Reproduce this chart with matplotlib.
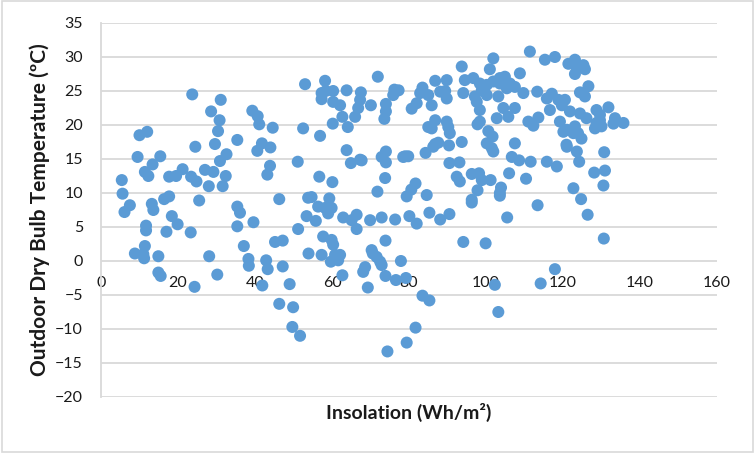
import matplotlib
matplotlib.use("Agg")
import matplotlib.pyplot as plt
from matplotlib.patches import Rectangle

# insolation (Wh/m2) and outdoor dry bulb temperature (C)
insolation = [
    5.4, 5.6, 7.5, 6.1, 9.5, 10.0, 12.0, 11.4, 12.3, 13.4, 15.4, 17.7, 19.5, 21.2, 23.4, 24.8, 24.5, 27.0, 29.2, 28.0,
    28.6, 31.1, 30.8, 30.4, 29.6, 30.9, 32.6, 32.4, 31.6, 35.4, 39.3, 40.7, 41.1, 44.6, 41.8, 40.6, 44.0, 43.9, 43.2, 46.3,
    51.1, 53.0, 52.5, 53.8, 23.7,
    13.2, 13.6, 16.4, 17.7, 25.5, 18.4, 19.9, 11.7, 11.7, 17.0, 23.3, 8.8, 11.0, 11.2, 11.4, 14.9, 14.9, 15.5, 24.3, 28.1,
    30.2, 35.4, 36.1, 35.4, 39.6, 37.1, 38.3, 38.4, 42.9, 43.3, 41.9, 45.2, 47.2, 51.2, 53.4, 53.9, 47.2, 49.0, 46.3, 49.9,
    49.7, 51.7,
    58.2, 57.3, 57.3, 58.4, 60.3, 60.3, 62.1, 63.8, 67.5, 67.3, 66.8, 66.0, 62.7, 60.2, 64.1, 70.1, 71.9, 76.2, 77.3, 75.9,
    74.0, 74.0, 73.6, 56.9, 63.8, 64.9, 67.7, 74.0, 74.0, 73.8, 56.7, 60.1, 54.7, 59.3, 71.8, 79.0, 79.8, 81.7, 80.6, 79.4,
    84.6, 80.7, 82.0, 83.5, 82.9, 85.0, 85.9, 86.8, 89.8, 88.1, 89.4, 89.8, 85.0, 86.8, 89.8, 90.6, 86.8, 87.6, 90.4, 84.3,
    93.7, 90.5, 93.1, 92.4, 93.2, 67.3, 72.9, 78.5, 86.3, 90.2, 85.9,
    56.4, 58.2, 59.9, 59.0, 55.8, 57.7, 59.9, 60.3, 57.3, 59.7, 60.8, 62.1, 61.6, 62.7, 62.9, 65.1, 66.4, 66.4, 69.9, 72.9,
    76.4, 73.9, 70.3, 70.6, 71.6, 72.5, 72.9, 68.6, 68.1, 69.3, 73.9, 76.6, 79.2, 77.9, 80.1, 82.0, 85.3, 88.1, 90.5, 83.5,
    85.3, 81.7, 79.4, 74.4, 94.1, 99.9, 96.3, 103.6, 105.5, 102.3, 103.2,
    93.7, 94.5, 94.1, 101.9, 101.0, 96.7, 98.4, 100.2, 101.9, 103.6, 104.9, 106.2, 107.5, 108.8, 109.7, 103.2, 98.9, 97.6,
    98.4, 100.2, 97.1, 105.4, 103.6, 104.5, 107.5, 105.8, 102.8, 98.4, 97.8, 100.6, 101.7, 100.2, 101.5, 101.9, 107.5, 106.7,
    96.3, 98.2, 98.9, 101.2, 97.8, 96.3, 103.9, 103.6, 106.0,
    111.4, 115.3, 117.9, 121.4, 123.1, 123.4, 125.3, 125.7, 123.1, 126.6, 124.4, 125.7, 113.3, 115.8, 117.1, 118.8, 120.5,
    119.7, 116.6, 121.8, 124.4, 126.1, 128.7, 129.6, 131.8, 133.5, 135.7, 133.1, 128.7, 130.0, 128.3, 129.6, 119.2, 120.1,
    121.0, 123.1, 123.9, 124.8, 122.7, 111.0, 112.3, 113.6, 120.9, 121.0, 123.6, 124.2, 130.7, 108.6, 111.6, 115.8, 118.4,
    110.4, 128.1, 130.9, 130.5, 122.7, 124.7, 113.4, 126.4, 130.6, 117.9, 114.2,
]
temperature = [
    11.9, 9.9, 8.2, 7.2, 15.3, 18.5, 19.0, 13.1, 12.5, 14.2, 15.4, 12.4, 12.5, 13.5, 12.4, 11.7, 16.8, 13.4, 13.1, 11.0,
    22.0, 23.7, 20.7, 19.1, 17.2, 14.7, 15.7, 12.5, 11.0, 17.8, 22.1, 21.3, 20.1, 19.6, 17.3, 16.2, 16.7, 14.0, 12.7, 9.1,
    14.6, 26.0, 19.5, 9.3, 24.5,
    8.4, 7.5, 9.1, 9.5, 8.9, 6.6, 5.4, 5.2, 4.5, 4.3, 4.2, 1.1, 1.0, 0.4, 2.2, 0.7, -1.7, -2.2, -3.8, 0.7,
    -2.0, 8.0, 7.1, 5.1, 5.7, 2.2, 0.3, -0.7, 0.1, -1.2, -3.6, 2.8, 3.0, 4.7, 6.6, 1.1, -0.8, -3.4, -6.3, -6.8,
    -9.7, -11.0,
    26.5, 24.7, 23.8, 25.0, 25.0, 23.4, 22.9, 25.1, 24.8, 23.7, 22.5, 21.2, 21.2, 20.2, 19.7, 22.9, 27.1, 25.2, 25.1, 24.4,
    23.1, 22.0, 20.9, 18.4, 16.3, 14.4, 14.8, 16.1, 14.5, 12.2, 12.4, 11.6, 9.4, 9.2, 10.2, 15.4, 15.4, 11.4, 10.5, 9.5,
    9.7, 22.4, 23.2, 25.5, 24.7, 24.4, 22.9, 26.5, 26.6, 24.9, 25.0, 23.9, 19.7, 20.7, 20.5, 18.8, 17.2, 17.4, 17.0, 15.9,
    17.5, 14.4, 14.5, 12.4, 11.7, 14.9, 15.3, 15.3, 16.8, 19.7, 19.5,
    8.0, 7.8, 7.8, 7.0, 5.9, 3.6, 3.1, 2.4, 0.9, -0.1, 0.9, 0.9, 0.1, -2.1, 6.4, 6.0, 6.8, 4.7, 6.0, 6.4,
    6.1, 3.0, 1.6, 1.1, 0.6, -0.1, -0.6, -0.9, -1.6, -3.9, -2.2, -2.8, -2.5, 0.0, 6.6, 5.5, 7.1, 6.1, 6.9, -5.1,
    -5.8, -9.8, -12.0, -13.3, 2.8, 2.6, 8.6, 9.6, 6.4, -3.5, -7.5,
    28.6, 26.6, 24.7, 29.8, 28.2, 26.9, 26.1, 25.9, 26.4, 26.9, 27.1, 26.1, 25.6, 27.6, 24.7, 24.2, 25.1, 23.4,
    22.2, 24.4, 24.2, 25.4, 26.1, 22.5, 22.5, 21.2, 21.0, 20.5, 20.1, 19.1, 18.3, 17.3, 16.6, 16.1, 17.3, 15.3,
    12.8, 12.9, 11.9, 11.9, 10.4, 9.0, 10.8, 10.0, 12.9,
    30.8, 29.6, 30.0, 29.0, 29.6, 28.6, 28.8, 28.2, 27.5, 25.7, 24.8, 24.2, 24.9, 23.9, 24.6, 23.7, 23.7,
    22.9, 22.2, 22.0, 21.7, 21.0, 22.2, 21.5, 22.6, 21.0, 20.3, 20.2, 20.3, 19.8, 19.5, 20.7, 20.5, 19.0,
    19.3, 19.8, 18.8, 18.0, 18.8, 20.5, 19.9, 21.1, 17.1, 16.8, 16.1, 14.6, 16.0, 14.8, 14.6, 14.6, 13.9,
    12.1, 13.0, 13.3, 11.1, 10.7, 9.1, 8.2, 6.8, 3.3, -1.2, -3.3,
]
x_ticks = [0, 20, 40, 60, 80, 100, 120, 140, 160]
y_ticks = [-20, -15, -10, -5, 0, 5, 10, 15, 20, 25, 30, 35]

plt.rcParams['font.family'] = ['Lato', 'DejaVu Sans']

fig = plt.figure(figsize=(7.55, 4.53), dpi=100)
ax = fig.add_axes([101/755, 1 - 397/453, 616/755, 374/453])

ax.scatter(insolation, temperature, s=75, color='#5B9BD5', edgecolors='none', zorder=3)

ax.set_xlim(0, 160)
ax.set_ylim(-20, 35)
ax.set_xticks(x_ticks)
ax.set_yticks(y_ticks)
ax.grid(axis='y', color='#D9D9D9', linewidth=1.3, zorder=0)
ax.grid(axis='x', visible=False)

for s in ['top', 'right']:
    ax.spines[s].set_visible(False)
ax.spines['left'].set_color('#D9D9D9')
ax.spines['left'].set_linewidth(1.3)
ax.spines['bottom'].set_position(('data', 0))
ax.spines['bottom'].set_visible(False)

ax.tick_params(axis='x', length=0, pad=11, labelsize=11.5, labelcolor='#1a1a1a')
ax.tick_params(axis='y', length=0, pad=13, labelsize=11.5, labelcolor='#1a1a1a')

fig.text(409/755, 1 - 412/453, 'Insolation (Wh/m²)', ha='center', va='center',
         fontsize=14, fontweight='bold', color='#1a1a1a')
fig.text(40/755, 1 - 210/453, 'Outdoor Dry Bulb Temperature (ºC)', ha='center', va='center',
         rotation=90, fontsize=15, fontweight='bold', color='#1a1a1a')

# chart border
fig.patches.append(Rectangle((0.002, 0.003), 0.995, 0.994, transform=fig.transFigure,
                             fill=False, edgecolor='#D9D9D9', linewidth=1.2))

fig.savefig('out.png', dpi=100)
